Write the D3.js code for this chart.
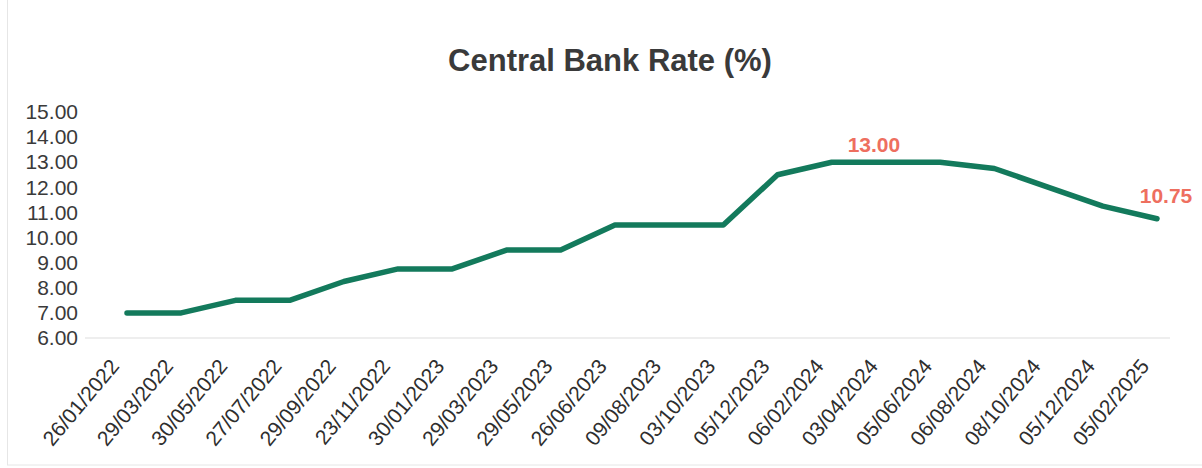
<!DOCTYPE html>
<html>
<head>
<meta charset="utf-8">
<script src="https://cdn.jsdelivr.net/npm/d3@7"></script>
<style>
  body { margin: 0; background: #fff; }
  svg { display: block; }
</style>
</head>
<body>
<div class="C"></div>
<script>
// data
var dates = ['26/01/2022', '29/03/2022', '30/05/2022', '27/07/2022', '29/09/2022', '23/11/2022',
    '30/01/2023', '29/03/2023', '29/05/2023', '26/06/2023', '09/08/2023', '03/10/2023',
    '05/12/2023', '06/02/2024', '03/04/2024', '05/06/2024', '06/08/2024', '08/10/2024',
    '05/12/2024', '05/02/2025'];
var rates = [7.00, 7.00, 7.50, 7.50, 8.25, 8.75, 8.75, 9.50, 9.50, 10.50, 10.50, 10.50,
    12.50, 13.00, 13.00, 13.00, 12.75, 12.00, 11.25, 10.75];
var yTicks = [6, 7, 8, 9, 10, 11, 12, 13, 14, 15];
var labelled = ['03/04/2024', '05/02/2025'];

var width = 1202, height = 468;

var svg = d3.select('.C').append('svg').attr('width', width).attr('height', height);

// faint frame like the original screenshot
svg.append('rect').attr('x', 7.5).attr('y', -2).attr('width', width + 4).attr('height', 467)
    .style('fill', 'none').style('stroke', '#e6e6e6');

svg.append('text').text('Central Bank Rate (%)')
    .attr('x', 610).attr('y', 71)
    .attr('text-anchor', 'middle')
    .style('font-family', '"Liberation Sans", Arial, sans-serif')
    .style('font-weight', 'bold').style('font-size', '31px')
    .style('fill', '#3a3a3a');

var x = d3.scalePoint().domain(dates).range([127, 1157]);
var y = d3.scaleLinear().domain([6, 15]).range([338, 112]);

// y axis (labels only)
var yAxis = svg.append('g').attr('transform', 'translate(84,0)')
    .call(d3.axisLeft(y).tickValues(yTicks).tickFormat(d3.format('.2f')).tickSize(0).tickPadding(6));
yAxis.select('.domain').remove();
yAxis.selectAll('text')
    .style('font-family', '"Liberation Sans", Arial, sans-serif')
    .style('font-size', '21px').style('fill', '#3a3a3a');

// faint baseline
svg.append('line').attr('x1', 85).attr('x2', 1170).attr('y1', y(6)).attr('y2', y(6))
    .style('stroke', '#eeeeee').style('stroke-width', 2);

// x axis
var xAxis = svg.append('g').attr('transform', 'translate(0,' + (y(6) + 24) + ')')
    .call(d3.axisBottom(x).tickSize(0).tickPadding(0));
xAxis.select('.domain').remove();
xAxis.selectAll('text')
    .attr('text-anchor', 'end')
    .attr('dy', '0.35em')
    .attr('transform', 'translate(-13,0) rotate(-50)')
    .style('font-family', '"Liberation Sans", Arial, sans-serif')
    .style('font-size', '21px').style('fill', '#2e2e2e');

var line = d3.line()
    .x(function (d, i) { return x(dates[i]); })
    .y(function (d) { return y(d); });

svg.append('path').datum(rates)
    .attr('d', line)
    .style('fill', 'none')
    .style('stroke', '#137a5c')
    .style('stroke-width', 5.5)
    .style('stroke-linejoin', 'round')
    .style('stroke-linecap', 'round');

svg.selectAll('.lbl')
    .data(labelled)
    .enter()
    .append('text')
    .attr('class', 'lbl')
    .attr('x', function (d, i) { return x(d) + (i === 0 ? -12 : 9); })
    .attr('y', function (d) { return y(rates[dates.indexOf(d)]); })
    .attr('dy', function (d, i) { return i === 0 ? -10 : -16; })
    .attr('text-anchor', 'middle')
    .text(function (d) { return d3.format('.2f')(rates[dates.indexOf(d)]); })
    .style('font-family', '"Liberation Sans", Arial, sans-serif')
    .style('font-weight', 'bold').style('font-size', '21px')
    .style('fill', '#ee6f5f');
</script>
</body>
</html>
